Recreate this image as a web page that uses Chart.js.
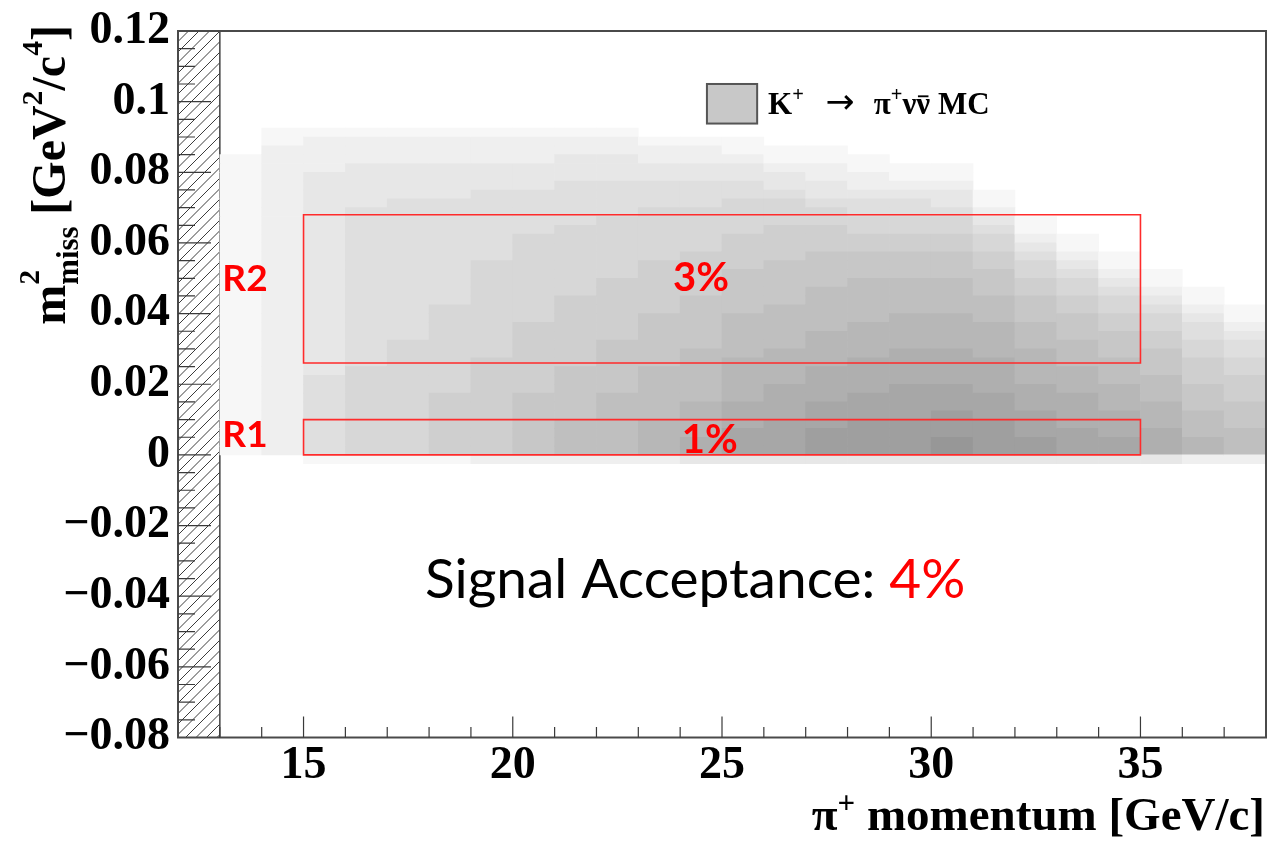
<!DOCTYPE html>
<html>
<head>
<meta charset="utf-8">
<title>Missing mass squared vs pion momentum</title>
<script src="https://cdn.jsdelivr.net/npm/chart.js@4.4.1/dist/chart.umd.min.js"></script>
<style>
  html, body { margin: 0; padding: 0; background: #ffffff; }
  canvas { display: block; }
</style>
</head>
<body>
<canvas id="chart" width="1271" height="841"></canvas>
<script>
// ---------------------------------------------------------------------------
// Data
// ---------------------------------------------------------------------------

// Axis ranges
const momentumRange = [12, 38];          // GeV/c
const m2Range = [-0.08, 0.12];           // GeV^2/c^4

// Tick values and their labels
const xTickValues = [15, 20, 25, 30, 35];
const xTickLabels = ['15', '20', '25', '30', '35'];
const yTickValues = [-0.08, -0.06, -0.04, -0.02, 0, 0.02, 0.04, 0.06, 0.08, 0.1, 0.12];
const yTickLabels = ['\u22120.08', '\u22120.06', '\u22120.04', '\u22120.02', '0',
                     '0.02', '0.04', '0.06', '0.08', '0.1', '0.12'];

// Momentum bin centres of the MC histogram (1 GeV/c wide bins)
const momentumBins = [13.5, 14.5, 15.5, 16.5, 17.5, 18.5, 19.5, 20.5, 21.5, 22.5,
                      23.5, 24.5, 25.5, 26.5, 27.5, 28.5, 29.5, 30.5, 31.5, 32.5,
                      33.5, 34.5, 35.5, 36.5, 37.5];

// m2miss bin edges, from top to bottom
const m2Edges = [0.095, 0.0925, 0.09, 0.0875, 0.085, 0.0825, 0.08, 0.0775, 0.075, 0.0725,
                 0.07, 0.0675, 0.065, 0.0625, 0.06, 0.0575, 0.055, 0.0525, 0.05, 0.0475,
                 0.045, 0.0425, 0.04, 0.0375, 0.035, 0.0325, 0.03, 0.0275, 0.025, 0.0225,
                 0.02, 0.0175, 0.015, 0.0125, 0.01, 0.0075, 0.005, 0.0025, 0, -0.0025];

// K+ -> pi+ nu nubar MC content per momentum bin, one hex digit per m2miss bin
// (top bin first; 0 = empty, f = most populated)
const mcColumns = [
  '0000111111 1111111111 1111111111 111111110',
  '0112222222 2222222222 2222222222 222222220',
  '0122223333 3333333333 3333333334 444444441',
  '0122233333 4444444444 4444444455 555555551',
  '0122233334 4444444444 4444455555 555555551',
  '0122233334 4444444444 4555555555 566666661',
  '0122233344 4444445555 5555555666 666666662',
  '0122233344 4445555555 5556666666 677777772',
  '0122333444 4455555555 6666666677 777788882',
  '0122333444 4555555566 6666677777 788888882',
  '0012233444 5555556666 6677777788 888899992',
  '0012233444 5555566666 7777778888 889999aa3',
  '0011233445 5556666777 7788888999 99aaabbb3',
  '0001123345 5566667777 7888889999 aaaabbbb3',
  '0001122334 5566677778 88889999aa aabbbccc3',
  '0000112234 4556677788 8889999aaa abbbcccc3',
  '0000011234 4556677788 889999aaaa bbbbcccc3',
  '0000011233 4556677788 889999aaaa bbbcccdd3',
  '0000000011 2345566777 8889999aaa abbbcccc3',
  '0000000000 0112345566 7778889999 aaabbbcc3',
  '0000000000 0001123455 6677788899 9aaaabbb3',
  '0000000000 0000011234 5566777888 999aaabb3',
  '0000000000 0000000112 3455667778 88999aaa3',
  '0000000000 0000000001 1234455666 777888992',
  '0000000000 0000000000 0112344556 667778882'
];

// Signal regions
const regionNames = ['R1', 'R2'];
const regionMomentum = [15, 35];
const regionM2Low = [0, 0.026];
const regionM2High = [0.01, 0.068];
const regionAcceptance = [1, 3];      // percent
const totalAcceptance = 4;            // percent

// Momentum range excluded from the analysis (hatched)
const excludedMomentum = [12, 13];

// ---------------------------------------------------------------------------
// Layout and style
// ---------------------------------------------------------------------------
const SERIF = '"Liberation Serif", "Times New Roman", serif';
const SANS = 'Lato, "Open Sans", sans-serif';
const ARROW_FONT = '"DejaVu Sans", sans-serif';
const RED = '#ff0000';

const layoutSpec = {
  regionLabel:   [{ p: 13.06, m2: 0.0021 }, { p: 13.06, m2: 0.0464 }],
  acceptanceTxt: [{ p: 24.04, m2: 0.0004 }, { p: 23.83, m2: 0.0464 }],
  totalTxt:      { p: 17.90, m2: -0.0406 },
  legendBox:     { p0: 24.64, p1: 25.84, m0: 0.0938, m1: 0.1050 },
  legendTxt:     { p: 26.10, m2: 0.0966 },
  xTitle:        { right: 1265, baseline: 830, size: 47 },
  yTitle:        { baselineX: 65, top: 25, size: 48 }
};

function shade(level) {
  const g = 255 - 8 * level;
  return 'rgb(' + g + ',' + g + ',' + g + ')';
}

// Histogram cells as floating bars
const mcCells = [];
momentumBins.forEach((p, ci) => {
  const col = mcColumns[ci].replace(/ /g, '');
  for (let r = 0; r < col.length; r++) {
    const v = parseInt(col[r], 16);
    if (v > 0) mcCells.push({ x: p, y: [m2Edges[r + 1], m2Edges[r]], v: v });
  }
});

function regionOutline(i) {
  return [
    { x: regionMomentum[0], y: regionM2Low[i] },
    { x: regionMomentum[1], y: regionM2Low[i] },
    { x: regionMomentum[1], y: regionM2High[i] },
    { x: regionMomentum[0], y: regionM2High[i] },
    { x: regionMomentum[0], y: regionM2Low[i] }
  ];
}

// Draws text made of pieces with super/subscripts and overlines
function drawRich(ctx, parts, x, y, size, family, align) {
  const setFont = p => {
    ctx.font = (p.wt || 'bold') + ' ' + (size * (p.s || 1)) + 'px ' + (p.fam || family);
  };
  const width = p => {
    if (p.gap !== undefined) return p.gap * size;
    setFont(p);
    return ctx.measureText(p.t).width;
  };
  let total = 0;
  parts.forEach(p => { if (!p.stack) total += width(p); });
  let cx = align === 'right' ? x - total : x;
  ctx.textAlign = 'left';
  ctx.textBaseline = 'alphabetic';
  parts.forEach(p => {
    const w = width(p);
    if (p.t) {
      setFont(p);
      ctx.fillText(p.t, cx, y + (p.dy || 0) * size);
      if (p.over) {
        ctx.save();
        ctx.strokeStyle = ctx.fillStyle;
        ctx.lineWidth = size * 0.06;
        ctx.beginPath();
        const oy = y - size * 0.56;
        ctx.moveTo(cx + w * 0.12, oy);
        ctx.lineTo(cx + w * 0.88, oy);
        ctx.stroke();
        ctx.restore();
      }
    }
    if (!p.stack) cx += w;
  });
}

// ROOT-like frame, ticks, hatching and annotations
const rootStyle = {
  id: 'rootStyle',
  beforeDatasetsDraw(chart) {
    const { ctx, chartArea: a } = chart;
    const X = v => chart.scales.x.getPixelForValue(v);
    const x0 = X(excludedMomentum[0]), x1 = X(excludedMomentum[1]);
    ctx.save();
    ctx.beginPath();
    ctx.rect(x0, a.top, x1 - x0, a.bottom - a.top);
    ctx.clip();
    ctx.strokeStyle = '#3c3c3c';
    ctx.lineWidth = 1;
    const w = x1 - x0;
    ctx.beginPath();
    for (let yy = a.top - w; yy <= a.bottom + w; yy += 10.5) {
      ctx.moveTo(x0, yy + w);
      ctx.lineTo(x1, yy);
    }
    ctx.stroke();
    ctx.restore();
    ctx.save();
    ctx.strokeStyle = '#404040';
    ctx.lineWidth = 1.5;
    ctx.beginPath();
    ctx.moveTo(x1, a.top);
    ctx.lineTo(x1, a.bottom);
    ctx.stroke();
    ctx.restore();
  },
  afterDatasetsDraw(chart) {
    const { ctx, chartArea: a } = chart;
    const X = v => chart.scales.x.getPixelForValue(v);
    const Y = v => chart.scales.y.getPixelForValue(v);
    ctx.save();

    // frame
    ctx.strokeStyle = '#4a4a4a';
    ctx.lineWidth = 2;
    ctx.strokeRect(a.left, a.top, a.right - a.left, a.bottom - a.top);

    // ticks (inside the frame)
    ctx.strokeStyle = '#3a3a3a';
    ctx.lineWidth = 1.2;
    ctx.beginPath();
    for (let i = 1; i < momentumRange[1] - momentumRange[0]; i++) {
      const v = momentumRange[0] + i;
      const major = xTickValues.indexOf(v) >= 0;
      const px = X(v);
      ctx.moveTo(px, a.bottom);
      ctx.lineTo(px, a.bottom - (major ? 21 : 10.5));
    }
    for (let i = 1; i < 40; i++) {
      const v = m2Range[0] + i * 0.005;
      const major = i % 4 === 0;
      const py = Y(v);
      ctx.moveTo(a.left, py);
      ctx.lineTo(a.left + (major ? 33 : 17), py);
    }
    ctx.stroke();

    // region labels and acceptances
    ctx.fillStyle = RED;
    ctx.textAlign = 'left';
    ctx.textBaseline = 'alphabetic';
    regionNames.forEach((name, i) => {
      const lp = layoutSpec.regionLabel[i];
      ctx.font = 'bold 37px ' + SANS;
      ctx.fillText(name, X(lp.p), Y(lp.m2));
      const ap = layoutSpec.acceptanceTxt[i];
      ctx.font = 'bold 40px ' + SANS;
      ctx.fillText(regionAcceptance[i] + '%', X(ap.p), Y(ap.m2));
    });

    // total acceptance
    const tp = layoutSpec.totalTxt;
    ctx.font = '55px ' + SANS;
    const lead = 'Signal Acceptance: ';
    ctx.fillStyle = '#000000';
    ctx.fillText(lead, X(tp.p), Y(tp.m2));
    const leadW = ctx.measureText(lead).width;
    ctx.fillStyle = RED;
    ctx.fillText(totalAcceptance + '%', X(tp.p) + leadW, Y(tp.m2));

    // legend
    const lb = layoutSpec.legendBox;
    const bx0 = X(lb.p0), bx1 = X(lb.p1), by0 = Y(lb.m1), by1 = Y(lb.m0);
    ctx.fillStyle = '#c8c8c8';
    ctx.fillRect(bx0, by0, bx1 - bx0, by1 - by0);
    ctx.strokeStyle = '#555555';
    ctx.lineWidth = 2;
    ctx.strokeRect(bx0, by0, bx1 - bx0, by1 - by0);
    ctx.fillStyle = '#000000';
    const lt = layoutSpec.legendTxt;
    drawRich(ctx, [
      { t: 'K' }, { t: '+', s: 0.66, dy: -0.4 }, { gap: 0.7 },
      { t: '\u2192', s: 1.12, fam: ARROW_FONT, wt: 'normal', dy: -0.02 }, { gap: 0.62 },
      { t: '\u03c0' }, { t: '+', s: 0.66, dy: -0.4 },
      { t: '\u03bd' }, { t: '\u03bd', over: true }, { t: ' MC' }
    ], X(lt.p), Y(lt.m2), 31, SERIF, 'left');

    ctx.restore();
  },
  afterDraw(chart) {
    const { ctx } = chart;
    ctx.save();
    ctx.fillStyle = '#000000';
    const xt = layoutSpec.xTitle;
    drawRich(ctx, [
      { t: '\u03c0' }, { t: '+', s: 0.66, dy: -0.36 },
      { t: ' momentum [GeV/c]' }
    ], xt.right, xt.baseline, xt.size, SERIF, 'right');

    const yt = layoutSpec.yTitle;
    ctx.translate(yt.baselineX, yt.top);
    ctx.rotate(-Math.PI / 2);
    drawRich(ctx, [
      { t: 'm' }, { t: '2', s: 0.62, dy: -0.55, stack: true },
      { t: 'miss', s: 0.64, dy: 0.27 },
      { t: ' [GeV' }, { t: '2', s: 0.62, dy: -0.48 },
      { t: '/c' }, { t: '4', s: 0.62, dy: -0.48 }, { t: ']' }
    ], 0, 0, yt.size, SERIF, 'right');
    ctx.restore();
  }
};

const tickFont = { family: SERIF, size: 46, weight: 'bold', lineHeight: 1 };

new Chart(document.getElementById('chart'), {
  type: 'bar',
  data: {
    datasets: [
      {
        type: 'bar',
        label: 'K+ \u2192 \u03c0+\u03bd\u03bd\u0304 MC',
        data: mcCells,
        backgroundColor: mcCells.map(c => shade(c.v)),
        borderWidth: 0,
        grouped: false,
        barPercentage: 1,
        categoryPercentage: 1,
        order: 3
      },
      ...regionNames.map((name, i) => ({
        type: 'scatter',
        label: name,
        data: regionOutline(i),
        showLine: true,
        borderColor: '#ff2b2b',
        borderWidth: 1.6,
        borderJoinStyle: 'miter',
        borderCapStyle: 'square',
        pointRadius: 0,
        fill: false,
        order: 1
      }))
    ]
  },
  options: {
    responsive: false,
    devicePixelRatio: 1,
    animation: false,
    events: [],
    layout: { padding: { top: 24.5, right: 5, bottom: 0, left: 0 } },
    plugins: {
      legend: { display: false },
      tooltip: { enabled: false }
    },
    scales: {
      x: {
        type: 'linear',
        position: 'bottom',
        min: momentumRange[0],
        max: momentumRange[1],
        offset: false,
        grid: { display: false, drawTicks: false },
        border: { display: false },
        ticks: {
          font: tickFont,
          color: '#000000',
          padding: 6,
          autoSkip: false,
          maxRotation: 0,
          minRotation: 0,
          callback: (v, i) => xTickLabels[i]
        },
        afterBuildTicks: s => { s.ticks = xTickValues.map(v => ({ value: v })); },
        afterFit: s => { s.height = 103.5; }
      },
      y: {
        type: 'linear',
        position: 'left',
        min: m2Range[0],
        max: m2Range[1],
        grid: { display: false, drawTicks: false },
        border: { display: false },
        ticks: {
          font: tickFont,
          color: '#000000',
          padding: 8,
          autoSkip: false,
          callback: (v, i) => yTickLabels[i]
        },
        afterBuildTicks: s => { s.ticks = yTickValues.map(v => ({ value: v })); },
        afterFit: s => { s.width = 178; }
      }
    }
  },
  plugins: [rootStyle]
});
</script>
</body>
</html>
